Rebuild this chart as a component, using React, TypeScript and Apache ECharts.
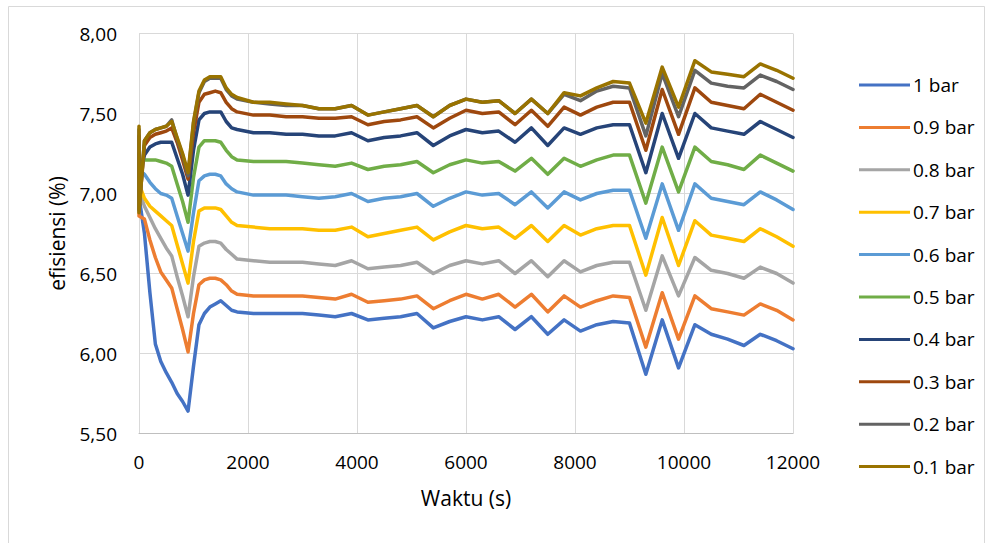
import React, { useEffect, useRef } from "react";
import * as echarts from "echarts";

const times = [
  0, 0, 100, 200, 300, 400, 500, 600, 700, 800, 900, 1000, 1100, 1200, 1300, 1400, 1500, 1600, 1700, 1800,
  2100, 2400, 2700, 3000, 3300, 3600, 3900, 4200, 4500, 4800, 5100, 5400, 5700, 6000, 6300, 6600, 6900,
  7200, 7500, 7800, 8100, 8400, 8700, 9000, 9300, 9600, 9900, 10200, 10500, 10800, 11100, 11400, 11700, 12000,
];

const bar1 = [
  7.02, 6.98, 6.75, 6.38, 6.06, 5.95, 5.88, 5.82, 5.75, 5.7, 5.64, 5.92, 6.18, 6.25, 6.29, 6.31, 6.33, 6.3, 6.27, 6.26,
  6.25, 6.25, 6.25, 6.25, 6.24, 6.23, 6.25, 6.21, 6.22, 6.23, 6.25, 6.16, 6.2, 6.23, 6.21, 6.23, 6.15,
  6.23, 6.12, 6.21, 6.14, 6.18, 6.2, 6.19, 5.87, 6.21, 5.91, 6.18, 6.12, 6.09, 6.05, 6.12, 6.08, 6.03,
];
const bar09 = [
  6.88, 6.86, 6.84, 6.71, 6.6, 6.51, 6.46, 6.41, 6.28, 6.15, 6.01, 6.25, 6.43, 6.46, 6.47, 6.47, 6.46, 6.43, 6.39, 6.37,
  6.36, 6.36, 6.36, 6.36, 6.35, 6.34, 6.37, 6.32, 6.33, 6.34, 6.36, 6.28, 6.33, 6.37, 6.34, 6.37, 6.29,
  6.37, 6.26, 6.36, 6.29, 6.33, 6.36, 6.35, 6.04, 6.38, 6.09, 6.36, 6.28, 6.26, 6.24, 6.31, 6.27, 6.21,
];
const bar08 = [
  7.05, 7.02, 6.92, 6.85, 6.78, 6.72, 6.66, 6.61, 6.48, 6.36, 6.23, 6.48, 6.67, 6.69, 6.7, 6.7, 6.69, 6.65, 6.62, 6.59,
  6.58, 6.57, 6.57, 6.57, 6.56, 6.55, 6.58, 6.53, 6.54, 6.55, 6.57, 6.5, 6.55, 6.58, 6.56, 6.58, 6.5,
  6.58, 6.48, 6.58, 6.51, 6.55, 6.57, 6.57, 6.27, 6.61, 6.36, 6.6, 6.52, 6.5, 6.47, 6.54, 6.5, 6.44,
];
const bar07 = [
  7.1, 7.06, 6.97, 6.92, 6.89, 6.86, 6.83, 6.8, 6.68, 6.56, 6.44, 6.7, 6.89, 6.91, 6.91, 6.91, 6.9, 6.86, 6.82, 6.8,
  6.79, 6.78, 6.78, 6.78, 6.77, 6.77, 6.79, 6.73, 6.75, 6.77, 6.79, 6.71, 6.76, 6.8, 6.78, 6.79, 6.72,
  6.8, 6.7, 6.8, 6.74, 6.78, 6.8, 6.8, 6.49, 6.85, 6.55, 6.83, 6.74, 6.72, 6.7, 6.78, 6.73, 6.67,
];
const bar06 = [
  7.17, 7.15, 7.12, 7.07, 7.03, 7.0, 6.99, 6.97, 6.86, 6.75, 6.64, 6.88, 7.08, 7.11, 7.12, 7.12, 7.11, 7.06, 7.03, 7.01,
  6.99, 6.99, 6.99, 6.98, 6.97, 6.98, 7.0, 6.95, 6.97, 6.98, 7.0, 6.92, 6.97, 7.01, 6.99, 7.0, 6.93,
  7.01, 6.91, 7.01, 6.96, 7.0, 7.02, 7.02, 6.72, 7.06, 6.77, 7.06, 6.97, 6.95, 6.93, 7.01, 6.96, 6.9,
];
const bar05 = [
  7.2, 7.18, 7.21, 7.21, 7.21, 7.2, 7.19, 7.17, 7.06, 6.95, 6.82, 7.1, 7.29, 7.33, 7.33, 7.33, 7.32, 7.27, 7.23, 7.21,
  7.2, 7.2, 7.2, 7.19, 7.18, 7.17, 7.19, 7.15, 7.17, 7.18, 7.2, 7.13, 7.18, 7.21, 7.19, 7.2, 7.14,
  7.22, 7.12, 7.22, 7.17, 7.21, 7.24, 7.24, 6.94, 7.29, 7.01, 7.29, 7.2, 7.18, 7.15, 7.24, 7.19, 7.14,
];
const bar04 = [
  7.25, 7.1, 7.24, 7.29, 7.31, 7.32, 7.32, 7.32, 7.22, 7.12, 6.99, 7.27, 7.46, 7.5, 7.51, 7.51, 7.51, 7.45, 7.41, 7.4,
  7.38, 7.38, 7.37, 7.37, 7.36, 7.36, 7.38, 7.33, 7.35, 7.36, 7.38, 7.3, 7.36, 7.4, 7.38, 7.39, 7.32,
  7.41, 7.3, 7.41, 7.37, 7.41, 7.43, 7.43, 7.13, 7.5, 7.22, 7.5, 7.41, 7.39, 7.37, 7.45, 7.4, 7.35,
];
const bar03 = [
  7.36, 6.9, 7.3, 7.35, 7.37, 7.38, 7.39, 7.41, 7.32, 7.21, 7.09, 7.38, 7.57, 7.62, 7.63, 7.64, 7.63, 7.57, 7.53, 7.51,
  7.49, 7.49, 7.48, 7.48, 7.47, 7.47, 7.48, 7.43, 7.45, 7.46, 7.48, 7.41, 7.47, 7.52, 7.5, 7.51, 7.43,
  7.52, 7.42, 7.54, 7.49, 7.54, 7.57, 7.57, 7.27, 7.65, 7.37, 7.66, 7.57, 7.55, 7.53, 7.62, 7.57, 7.52,
];
const bar02 = [
  7.4, 6.89, 7.33, 7.38, 7.4, 7.41, 7.42, 7.46, 7.34, 7.24, 7.11, 7.44, 7.63, 7.7, 7.72, 7.72, 7.72, 7.65, 7.61, 7.59,
  7.57, 7.56, 7.55, 7.55, 7.53, 7.53, 7.55, 7.49, 7.51, 7.53, 7.55, 7.48, 7.55, 7.59, 7.57, 7.58, 7.5,
  7.59, 7.5, 7.62, 7.58, 7.64, 7.67, 7.66, 7.36, 7.75, 7.48, 7.77, 7.69, 7.67, 7.66, 7.74, 7.7, 7.65,
];
const bar01 = [
  7.42, 6.88, 7.33, 7.38, 7.4, 7.41, 7.42, 7.45, 7.35, 7.25, 7.13, 7.45, 7.64, 7.71, 7.73, 7.73, 7.73, 7.66, 7.62, 7.6,
  7.57, 7.57, 7.56, 7.55, 7.53, 7.53, 7.55, 7.49, 7.51, 7.53, 7.55, 7.48, 7.55, 7.59, 7.57, 7.58, 7.5,
  7.59, 7.5, 7.63, 7.61, 7.66, 7.7, 7.69, 7.44, 7.79, 7.54, 7.83, 7.76, 7.745, 7.73, 7.81, 7.77, 7.72,
];

const seriesNames = ["1 bar", "0.9 bar", "0.8 bar", "0.7 bar", "0.6 bar", "0.5 bar", "0.4 bar", "0.3 bar", "0.2 bar", "0.1 bar"];
const seriesValues = [bar1, bar09, bar08, bar07, bar06, bar05, bar04, bar03, bar02, bar01];
const seriesColors = ["#4472C4", "#ED7D31", "#A5A5A5", "#FFC000", "#5B9BD5", "#70AD47", "#264478", "#9E480E", "#636363", "#997300"];

const FONT = "'Open Sans', 'Noto Sans', sans-serif";

export default function App() {
  const ref = useRef<HTMLDivElement>(null);
  useEffect(() => {
    if (!ref.current) return;
    const chart = echarts.init(ref.current, undefined, { renderer: "svg" });
    chart.setOption({
      animation: false,
      backgroundColor: "#ffffff",
      textStyle: { fontFamily: FONT },
      graphic: [
        {
          type: "rect",
          shape: { x: 8.5, y: 6.5, width: 976, height: 560 },
          style: { fill: "none", stroke: "#D9D9D9", lineWidth: 1 },
          silent: true,
          z: -10,
        },
      ],
      grid: { left: 139, top: 33.5, right: 199, bottom: 109.5, containLabel: false },
      legend: {
        orient: "vertical",
        left: 859,
        top: 75,
        padding: 0,
        icon: "rect",
        itemWidth: 51,
        itemHeight: 3,
        itemGap: 22.4,
        textStyle: { fontFamily: FONT, fontSize: 19, color: "#000", lineHeight: 20, padding: [0, 0, 0, -2] },
        data: seriesNames,
      },
      xAxis: {
        type: "value",
        min: 0,
        max: 12000,
        interval: 2000,
        name: "Waktu (s)",
        nameLocation: "middle",
        nameGap: 54,
        nameTextStyle: { fontFamily: FONT, fontSize: 21, color: "#000" },
        axisLine: { show: true, lineStyle: { color: "#BFBFBF", width: 1 } },
        axisTick: { show: false },
        axisLabel: {
          fontFamily: FONT,
          fontSize: 19,
          color: "#000",
          margin: 19,
          formatter: (v: number) => String(v),
        },
        splitLine: { show: true, lineStyle: { color: "#D9D9D9", width: 1 } },
      },
      yAxis: {
        type: "value",
        min: 5.5,
        max: 8,
        interval: 0.5,
        name: "efisiensi (%)",
        nameLocation: "middle",
        nameGap: 72,
        nameTextStyle: { fontFamily: FONT, fontSize: 21, color: "#000" },
        axisLine: { show: true, lineStyle: { color: "#D9D9D9", width: 1 } },
        axisTick: { show: false },
        axisLabel: {
          fontFamily: FONT,
          fontSize: 19,
          color: "#000",
          margin: 22,
          formatter: (v: number) => v.toFixed(2).replace(".", ","),
        },
        splitLine: { show: true, lineStyle: { color: "#D9D9D9", width: 1 } },
      },
      series: seriesNames.map((name, i) => ({
        name,
        type: "line",
        data: times.map((t, j) => [t, seriesValues[i][j]]),
        showSymbol: false,
        symbol: "none",
        smooth: false,
        lineStyle: { color: seriesColors[i], width: 3.5, cap: "round", join: "round" },
        itemStyle: { color: seriesColors[i] },
      })),
    });
    return () => chart.dispose();
  }, []);
  return (
    <div
      ref={ref}
      style={{ position: "fixed", left: 0, top: 0, width: 992, height: 543, background: "#fff" }}
    />
  );
}
